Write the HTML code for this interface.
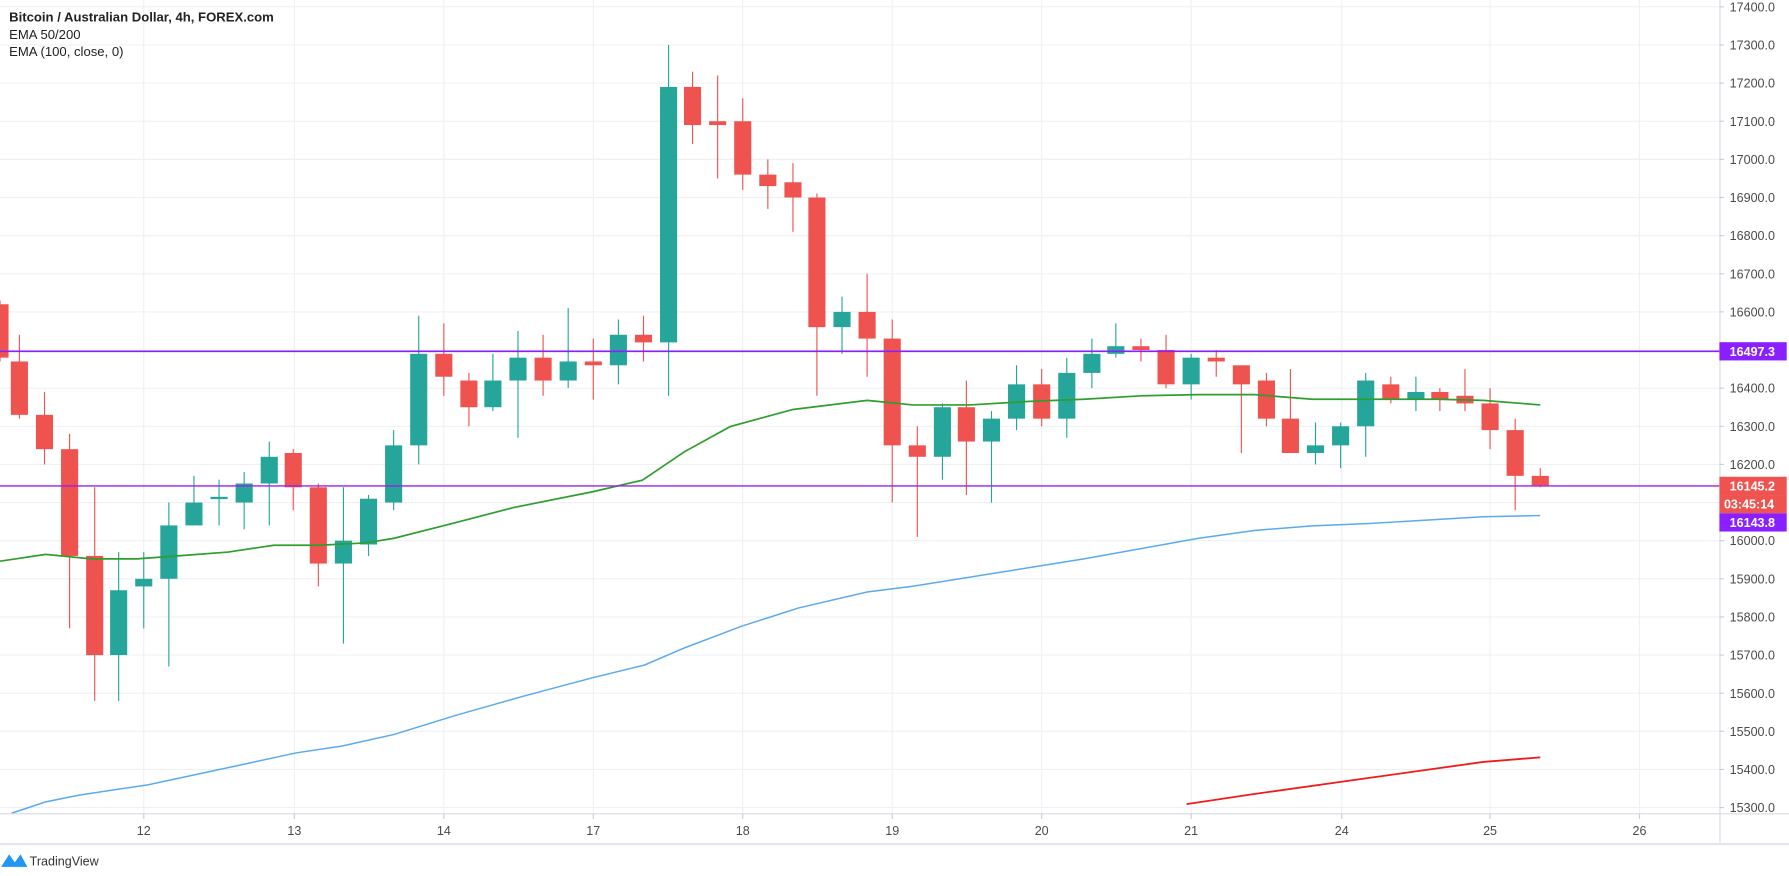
<!DOCTYPE html>
<html><head><meta charset="utf-8"><style>
html,body{margin:0;padding:0;background:#fff;width:1789px;height:876px;overflow:hidden}
svg{display:block}
text{font-family:"Liberation Sans",sans-serif}
</style></head><body>
<svg id="s" width="1789" height="876" viewBox="0 0 1568 768" preserveAspectRatio="none" xmlns="http://www.w3.org/2000/svg"></svg>
<script>
const Y=p=>6+(17400-p)*0.3343;
let h='';
// grid
for(let p=15300;p<=17400;p+=100){const y=Y(p);h+=`<line x1="0" x2="1507" y1="${y}" y2="${y}" stroke="#eef0f6" stroke-width="1"/>`;}
const days=[[126,'12'],[258,'13'],[389,'14'],[520,'17'],[651,'18'],[782,'19'],[913,'20'],[1044,'21'],[1176,'24'],[1306,'25'],[1437,'26']];
for(const [x,l] of days){h+=`<line x1="${x}" x2="${x}" y1="0" y2="713" stroke="#eef0f6"/>`;h+=`<line x1="${x}" x2="${x}" y1="713" y2="718" stroke="#c8ccd6"/><text x="${x}" y="732" font-size="11" fill="#4a4a4a" text-anchor="middle">${l}</text>`;}
// candles [x,O,C,H,L]
const c=[[0,16620,16480,16630,16470],[17,16470,16330,16540,16320],[39,16330,16240,16390,16200],[61,16240,15960,16280,15770],[83,15960,15700,16140,15580],[104,15700,15870,15970,15580],[126,15880,15900,15970,15770],[148,15900,16040,16100,15670],[170,16040,16100,16170,16040],[192,16110,16115,16160,16040],[214,16100,16150,16180,16030],[236,16150,16220,16260,16040],[257,16230,16140,16240,16080],[279,16140,15940,16150,15880],[301,15940,16000,16140,15730],[323,15990,16110,16120,15960],[345,16100,16250,16290,16080],[367,16250,16490,16590,16200],[389,16490,16430,16570,16380],[411,16420,16350,16440,16300],[432,16350,16420,16490,16340],[454,16420,16480,16550,16270],[476,16480,16420,16540,16380],[498,16420,16470,16610,16400],[520,16470,16460,16530,16370],[542,16460,16540,16580,16410],[564,16540,16520,16590,16470],[586,16520,17190,17300,16380],[607,17190,17090,17230,17040],[629,17100,17090,17220,16950],[651,17100,16960,17160,16920],[673,16960,16930,17000,16870],[695,16940,16900,16990,16810],[716,16900,16560,16910,16380],[738,16560,16600,16640,16490],[760,16600,16530,16700,16430],[782,16530,16250,16580,16100],[804,16250,16220,16300,16010],[826,16220,16350,16360,16160],[847,16350,16260,16420,16120],[869,16260,16320,16340,16100],[891,16320,16410,16460,16290],[913,16410,16320,16450,16300],[935,16320,16440,16480,16270],[957,16440,16490,16530,16400],[978,16490,16510,16570,16480],[1000,16510,16500,16530,16470],[1022,16500,16410,16540,16400],[1044,16410,16480,16490,16370],[1066,16480,16470,16500,16430],[1088,16460,16410,16430,16230],[1110,16420,16320,16440,16300],[1131,16320,16230,16450,16230],[1153,16230,16250,16310,16200],[1175,16250,16300,16310,16190],[1197,16300,16420,16440,16220],[1219,16410,16370,16430,16360],[1241,16370,16390,16430,16340],[1262,16390,16370,16400,16340],[1284,16380,16360,16450,16340],[1306,16360,16290,16400,16240],[1328,16290,16170,16320,16080],[1350,16170,16145,16190,16140]];
for(const [x,o,cl,hi,lo] of c){const col=cl>=o?'#26a69a':'#ef5350';const t=Y(Math.max(o,cl)),b=Y(Math.min(o,cl));
h+=`<line x1="${x}" x2="${x}" y1="${Y(hi)}" y2="${Y(lo)}" stroke="${col}" stroke-width="1"/><rect x="${x-7.5}" y="${t}" width="15" height="${Math.max(b-t,2)}" fill="${col}"/>`;}
const pl=(pts,col,w)=>`<polyline fill="none" stroke="${col}" stroke-width="${w}" points="${pts}"/>`;
h+=pl("0,492 40,486 80,490 120,490 160,487 200,484 240,478 280,478 320,476 345,472 400,458 450,445 520,431 563,421 600,396 640,374 695,359 760,351 800,355 850,355 900,352 950,350 1000,347 1050,346 1100,346 1150,350 1200,350 1260,350 1300,351 1350,355","#2e9e2e",1.5);
h+=pl("10,713 40,703 70,697 130,688 200,673 260,660 300,654 345,644 400,627 460,610 520,594 565,583 600,568 650,549 700,533 760,519 800,514 900,498 950,490 1000,481 1050,472 1100,465 1150,461 1200,459 1250,456 1300,453 1350,452","#5aaaf0",1.3);
h+=pl("1040,705 1100,696 1200,682 1300,668 1350,664","#f01c1c",1.6);
h+=`<line x1="0" x2="1507" y1="308" y2="308" stroke="#8a1fff" stroke-width="1.5"/><line x1="0" x2="1507" y1="426" y2="426" stroke="#a020e0" stroke-width="1.2"/>`;
// axes
h+=`<rect x="1507.5" y="0" width="60" height="740" fill="#fff"/><line x1="1507.5" x2="1507.5" y1="0" y2="740" stroke="#d6dae3"/><line x1="0" x2="1568" y1="713.5" y2="713.5" stroke="#d6dae3"/><line x1="0" x2="1568" y1="740" y2="740" stroke="#e4e7ee" stroke-width="2"/>`;
for(let p=15300;p<=17400;p+=100){const y=Y(p);h+=`<line x1="1507" x2="1511" y1="${y}" y2="${y}" stroke="#c8ccd6"/><text x="1516" y="${y+4}" font-size="11" fill="#4a4a4a">${p}.0</text>`;}
h+=`<rect x="1507" y="300" width="59" height="16" fill="#8a1fff"/><text x="1516" y="312" font-size="11" font-weight="bold" fill="#fff">16497.3</text>`;
h+=`<rect x="1507" y="418" width="59" height="16" fill="#ef5350"/><text x="1516" y="430" font-size="11" font-weight="bold" fill="#fff">16145.2</text>`;
h+=`<rect x="1507" y="434" width="59" height="16" fill="#ef5350"/><text x="1511" y="446" font-size="11" font-weight="bold" fill="#fff">03:45:14</text>`;
h+=`<rect x="1507" y="450" width="59" height="16" fill="#8a1fff"/><text x="1516" y="462" font-size="11" font-weight="bold" fill="#fff">16143.8</text>`;
// legend
h+=`<text x="8" y="19" font-size="11.5" font-weight="bold" fill="#222">Bitcoin / Australian Dollar, 4h, FOREX.com</text><text x="8" y="34" font-size="11.5" fill="#222">EMA 50/200</text><text x="8" y="49" font-size="11.5" fill="#222">EMA (100, close, 0)</text>`;
// logo
h+=`<path d="M1,760 L8,749 L13,756 L18,749 L24,760 Z" fill="#2196f3"/><text x="26" y="759" font-size="11" fill="#333">TradingView</text>`;
document.getElementById('s').innerHTML=h;
</script>
</body></html>
